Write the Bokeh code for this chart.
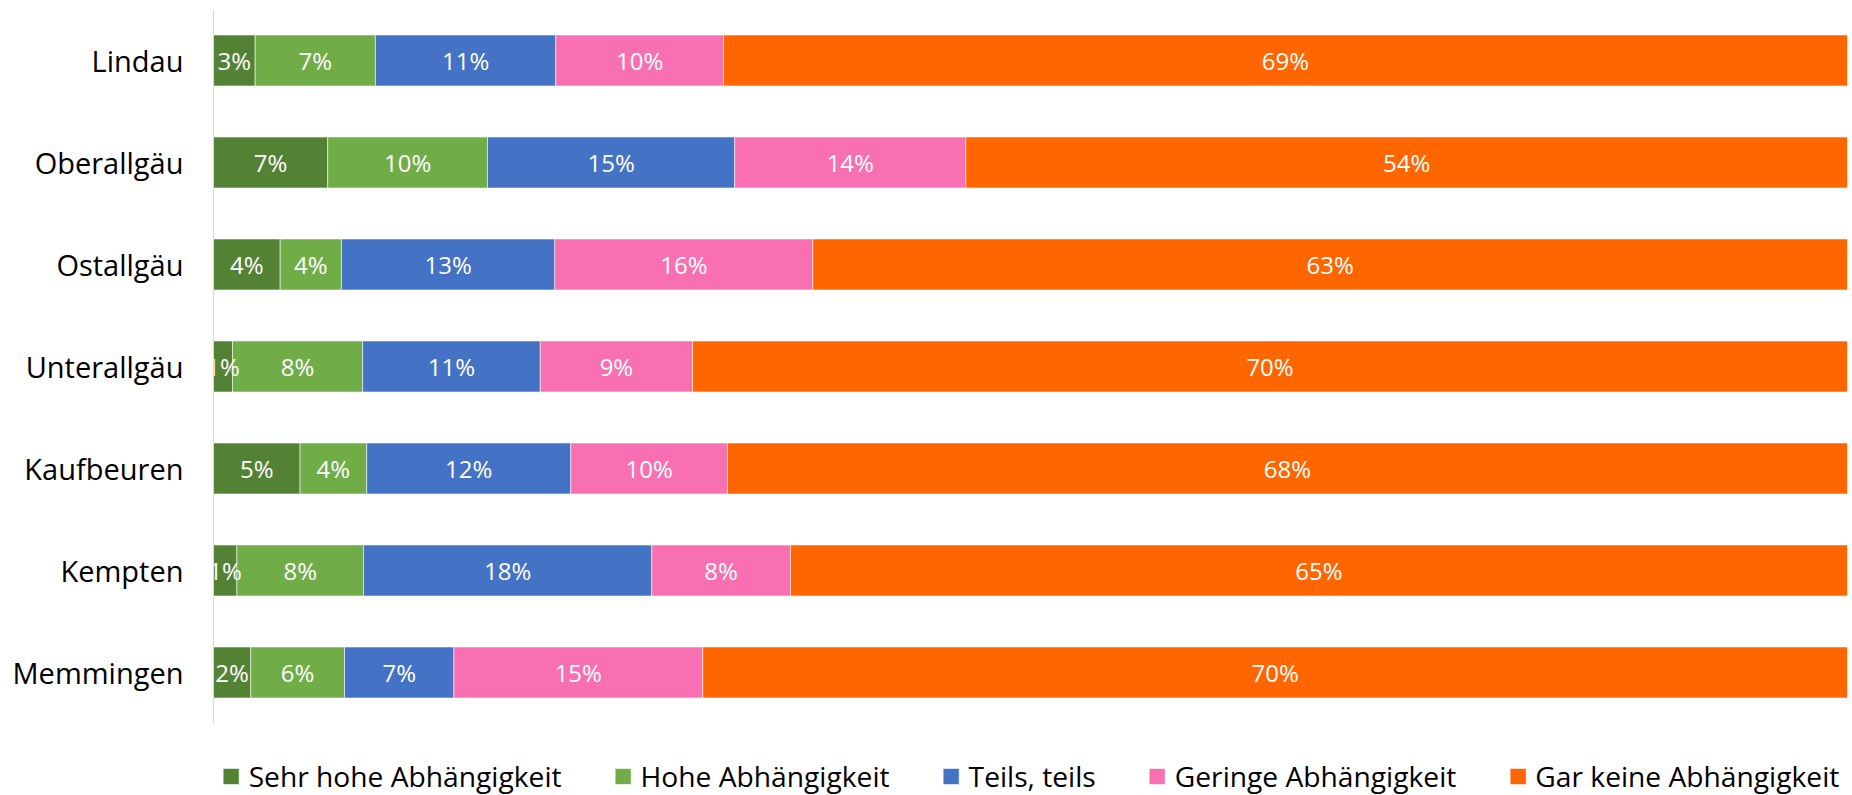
from bokeh.plotting import figure
from bokeh.models import ColumnDataSource, Range1d, Legend, LegendItem, FixedTicker
from bokeh.core.properties import value
from bokeh.embed import file_html
from bokeh.resources import INLINE

categories = ["Lindau", "Oberallgäu", "Ostallgäu", "Unterallgäu", "Kaufbeuren", "Kempten", "Memmingen"]
series = ["Sehr hohe Abhängigkeit", "Hohe Abhängigkeit", "Teils, teils",
          "Geringe Abhängigkeit", "Gar keine Abhängigkeit"]
sehr_hoch = [2.55, 6.99, 4.08, 1.16, 5.26, 1.43, 2.28]
hoch = [7.36, 9.78, 3.75, 7.93, 4.05, 7.75, 5.74]
teils = [11.04, 15.13, 13.06, 10.83, 12.40, 17.64, 6.69]
gering = [10.26, 14.14, 15.79, 9.28, 9.52, 8.49, 15.23]
gar_keine = [68.79, 53.96, 63.32, 70.40, 68.06, 64.69, 70.06]
colors = ["#548235", "#70AD47", "#4472C4", "#F870B2", "#FF6600"]

FONT = "Open Sans"
raw = [sehr_hoch, hoch, teils, gering, gar_keine]
keys = ["s0", "s1", "s2", "s3", "s4"]
n = len(categories)
totals = [sum(col[i] for col in raw) for i in range(n)]
ypos = list(range(n - 1, -1, -1))  # first category on top

# 100% stacked: shares normalized per row, labels show raw values
data = {"y": ypos}
for k, col in zip(keys, raw):
    data[k] = [v / t * 100 for v, t in zip(col, totals)]
source = ColumnDataSource(data)

LEGEND_SPACE = 0.706  # room below the last bar for the legend (in category units)
p = figure(width=1852, height=795,
           y_range=Range1d(-0.5 - LEGEND_SPACE, n - 0.5),
           x_range=Range1d(0, 100),
           output_backend="svg", toolbar_location=None,
           min_border_left=213, min_border_right=5,
           min_border_top=9, min_border_bottom=0)

renderers = p.hbar_stack(keys, y="y", height=0.5, color=colors, source=source,
                         line_color="white", line_width=0.8, line_alpha=0.7)

# data labels
lab_x, lab_y, lab_t = [], [], []
for i in range(n):
    left = 0.0
    for k, col in zip(keys, raw):
        w = data[k][i]
        lab_x.append(left + w / 2)
        lab_y.append(ypos[i])
        lab_t.append(f"{round(col[i]):d}%")
        left += w
p.text(x=lab_x, y=lab_y, text=lab_t, text_font=value(FONT), text_font_size="24px",
       text_color="white", text_align="center", text_baseline="middle")

p.xaxis.visible = False
p.xgrid.visible = False
p.ygrid.visible = False
p.outline_line_color = None
p.yaxis.ticker = FixedTicker(ticks=ypos)
p.yaxis.major_label_overrides = {y: c for y, c in zip(ypos, categories)}
p.yaxis.bounds = (-0.5, n - 0.5)
p.yaxis.axis_line_color = "#D9D9D9"
p.yaxis.axis_line_width = 1
p.yaxis.major_tick_line_color = None
p.yaxis.minor_tick_line_color = None
p.yaxis.major_tick_out = 0
p.yaxis.major_tick_in = 0
p.yaxis.major_label_standoff = 30
p.yaxis.major_label_text_font = FONT
p.yaxis.major_label_text_font_size = "29px"
p.yaxis.major_label_text_color = "black"

legend = Legend(items=[LegendItem(label=s, renderers=[r]) for s, r in zip(series, renderers)],
                orientation="horizontal", location="bottom_center", spacing=51,
                glyph_width=20, glyph_height=20, label_standoff=8,
                padding=0, margin=0, border_line_color=None, background_fill_alpha=0,
                label_text_font=FONT, label_text_font_size="28.2px", label_text_color="black")
p.add_layout(legend)

open("out.html", "w").write(file_html(p, INLINE))
